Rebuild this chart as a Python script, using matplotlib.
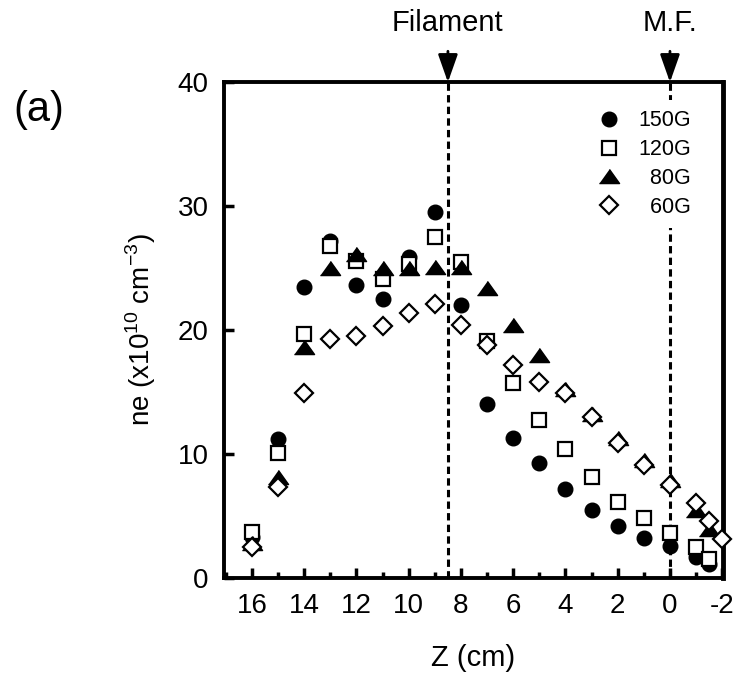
import matplotlib
matplotlib.use("Agg")
import matplotlib.pyplot as plt
from matplotlib.ticker import MultipleLocator

plt.rcParams['font.family'] = ['Liberation Sans', 'DejaVu Sans']
plt.rcParams['mathtext.fontset'] = 'custom'
plt.rcParams['mathtext.rm'] = 'Liberation Sans'

z = [16, 15, 14, 13, 12, 11, 10, 9, 8, 7, 6, 5, 4, 3, 2, 1, 0, -1, -1.5]
z60 = [16, 15, 14, 13, 12, 11, 10, 9, 8, 7, 6, 5, 4, 3, 2, 1, 0, -1, -1.5, -2]
ne_150 = [3.3, 11.2, 23.5, 27.2, 23.6, 22.5, 25.9, 29.5, 22.0, 14.0, 11.3, 9.3, 7.2, 5.5, 4.2, 3.2, 2.6, 1.7, 1.1]
ne_120 = [3.7, 10.1, 19.7, 26.8, 25.6, 24.1, 25.3, 27.5, 25.5, 19.1, 15.7, 12.7, 10.4, 8.1, 6.1, 4.8, 3.6, 2.5, 1.5]
ne_80 = [2.8, 8.1, 18.6, 25.0, 26.1, 25.0, 25.0, 25.1, 25.1, 23.4, 20.4, 18.0, 15.2, 13.2, 11.3, 9.5, 7.9, 5.5, 3.9]
ne_60 = [2.5, 7.3, 14.9, 19.3, 19.5, 20.3, 21.4, 22.1, 20.4, 18.8, 17.2, 15.8, 14.9, 13.0, 10.9, 9.1, 7.5, 6.0, 4.6, 3.1]
labels = ["150G", "120G", "  80G", "  60G"]
xticks = [16, 14, 12, 10, 8, 6, 4, 2, 0, -2]
yticks = [0, 10, 20, 30, 40]
filament_z = 8.5
mf_z = 0

fig = plt.figure(figsize=(7.37, 6.97), dpi=100)
ax = fig.add_axes([0.304, 0.171, 0.677, 0.711])

tri = [(-1, -0.7), (1, -0.7), (0, 0.7)]
kw = dict(linestyle='none', clip_on=False, zorder=3)
h1, = ax.plot(z, ne_150, marker='o', ms=10.5, mfc='black', mec='black', **kw)
h2, = ax.plot(z, ne_120, marker='s', ms=10.5, mfc='white', mec='black', mew=1.6, **kw)
h3, = ax.plot(z, ne_80, marker=tri, ms=14.5, mfc='black', mec='black', **kw)
h4, = ax.plot(z60, ne_60, marker='D', ms=9.5, mfc='white', mec='black', mew=1.6, **kw)

for xv in (filament_z, mf_z):
    ax.axvline(xv, color='black', lw=2.2, ls=(0, (2.4, 1.4)), zorder=2)

ax.set_xlim(17.07, -2.03)
ax.set_ylim(0, 40)
ax.set_xticks(xticks)
ax.set_yticks(yticks)
ax.xaxis.set_minor_locator(MultipleLocator(1))
ax.tick_params(axis='both', which='major', direction='in', length=7, width=2.5,
               labelsize=20, pad=11, top=False, right=False)
ax.tick_params(axis='x', which='minor', direction='in', length=4, width=2.5, top=False)
ax.set_xticklabels([str(t) for t in xticks])
for s in ax.spines.values():
    s.set_linewidth(2.8)
ax.spines['right'].set_linewidth(3.5)

ax.set_xlabel('Z (cm)', fontsize=21, labelpad=18)
ax.set_ylabel('ne (x10$^{10}$ cm$^{-3}$)', fontsize=20, labelpad=14)

leg = ax.legend([h1, h2, h3, h4], labels, loc='upper right', frameon=True,
                fancybox=False, facecolor='white', edgecolor='none', framealpha=1,
                fontsize=15.5, handletextpad=0.9, labelspacing=0.36,
                borderpad=0.5, borderaxespad=0, handlelength=0.9,
                bbox_to_anchor=(0.958, 0.965))
leg.set_zorder(5)

# arrows and labels above the axes
for xv, txt in ((filament_z, 'Filament'), (mf_z, 'M.F.')):
    ax.annotate('', xy=(xv, 40), xytext=(xv, 42.5),
                xycoords='data', textcoords='data',
                arrowprops=dict(arrowstyle='-|>,head_length=0.85,head_width=0.3',
                                mutation_scale=20, shrinkA=0, shrinkB=0,
                                color='black', lw=2), annotation_clip=False)
    ax.text(xv, 44.1, txt, ha='center', va='baseline', fontsize=21, clip_on=False)

fig.text(0.052, 0.842, '(a)', fontsize=30, ha='center', va='center')

fig.savefig('out.png', dpi=100)
